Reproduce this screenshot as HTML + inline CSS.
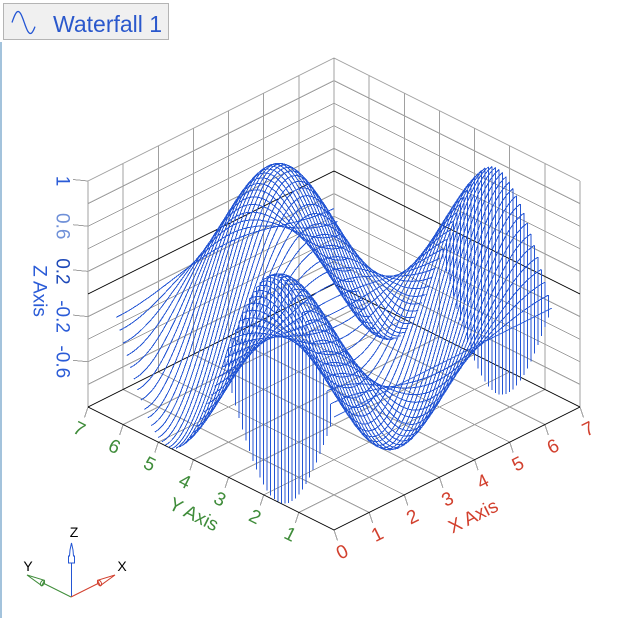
<!DOCTYPE html>
<html>
<head>
<meta charset="utf-8">
<style>
html,body{margin:0;padding:0;background:#fff;}
body{width:634px;height:618px;overflow:hidden;position:relative;}
svg{position:absolute;left:0;top:0;}
text{font-family:"Liberation Sans",Arial,sans-serif;}
</style>
</head>
<body>
<svg width="634" height="618" viewBox="0 0 634 618" xmlns="http://www.w3.org/2000/svg">
<!-- left stripe -->
<rect x="0" y="42" width="2" height="576" fill="#a3c3dc"/>
<!-- legend -->
<rect x="3.5" y="3.5" width="165" height="36" fill="#f0f0f0" stroke="#b4b4b4" stroke-width="1"/>
<path id="leg" d="" fill="none" stroke="#2456d4" stroke-width="1.3"/>
<text x="53" y="32" font-size="23" fill="#2a58cc">Waterfall 1</text>

<!-- gray grid -->
<g stroke="#a0a0a0" stroke-width="1" fill="none" shape-rendering="crispEdges">
  <!-- left wall verticals -->
  <line x1="88" y1="407" x2="88" y2="181"/>
  <line x1="123.14" y1="389.43" x2="123.14" y2="163.43"/>
  <line x1="158.29" y1="371.86" x2="158.29" y2="145.86"/>
  <line x1="193.43" y1="354.29" x2="193.43" y2="128.29"/>
  <line x1="228.57" y1="336.71" x2="228.57" y2="110.71"/>
  <line x1="263.71" y1="319.14" x2="263.71" y2="93.14"/>
  <line x1="298.86" y1="301.57" x2="298.86" y2="75.57"/>
  <line x1="334" y1="284" x2="334" y2="58"/>
  <!-- right wall verticals -->
  <line x1="580" y1="407" x2="580" y2="181"/>
  <line x1="544.86" y1="389.43" x2="544.86" y2="163.43"/>
  <line x1="509.71" y1="371.86" x2="509.71" y2="145.86"/>
  <line x1="474.57" y1="354.29" x2="474.57" y2="128.29"/>
  <line x1="439.43" y1="336.71" x2="439.43" y2="110.71"/>
  <line x1="404.29" y1="319.14" x2="404.29" y2="93.14"/>
  <line x1="369.14" y1="301.57" x2="369.14" y2="75.57"/>
  <!-- wall horizontals -->
  <polyline points="88,384.4 334,261.4 580,384.4"/>
  <polyline points="88,361.8 334,238.8 580,361.8"/>
  <polyline points="88,339.2 334,216.2 580,339.2"/>
  <polyline points="88,316.6 334,193.6 580,316.6"/>
  <polyline points="88,271.4 334,148.4 580,271.4"/>
  <polyline points="88,248.8 334,125.8 580,248.8"/>
  <polyline points="88,226.2 334,103.2 580,226.2"/>
  <polyline points="88,203.6 334,80.6 580,203.6"/>
  <polyline points="88,181 334,58 580,181"/>
  <!-- floor x=k -->
  <line x1="369.14" y1="512.43" x2="123.14" y2="389.43"/>
  <line x1="404.29" y1="494.86" x2="158.29" y2="371.86"/>
  <line x1="439.43" y1="477.29" x2="193.43" y2="354.29"/>
  <line x1="474.57" y1="459.71" x2="228.57" y2="336.71"/>
  <line x1="509.71" y1="442.14" x2="263.71" y2="319.14"/>
  <line x1="544.86" y1="424.57" x2="298.86" y2="301.57"/>
  <!-- floor y=k -->
  <line x1="298.86" y1="512.43" x2="544.86" y2="389.43"/>
  <line x1="263.71" y1="494.86" x2="509.71" y2="371.86"/>
  <line x1="228.57" y1="477.29" x2="474.57" y2="354.29"/>
  <line x1="193.43" y1="459.71" x2="439.43" y2="336.71"/>
  <line x1="158.29" y1="442.14" x2="404.29" y2="319.14"/>
  <line x1="123.14" y1="424.57" x2="369.14" y2="301.57"/>
  <!-- Y ticks -->
  <line x1="298.86" y1="512.43" x2="295.36" y2="522.93"/>
  <line x1="263.71" y1="494.86" x2="260.21" y2="505.36"/>
  <line x1="228.57" y1="477.29" x2="225.07" y2="487.79"/>
  <line x1="193.43" y1="459.71" x2="189.93" y2="470.21"/>
  <line x1="158.29" y1="442.14" x2="154.79" y2="452.64"/>
  <line x1="123.14" y1="424.57" x2="119.64" y2="435.07"/>
  <line x1="88" y1="407" x2="84.5" y2="417.5"/>
  <!-- X ticks -->
  <line x1="334" y1="530" x2="337.5" y2="540.5"/>
  <line x1="369.14" y1="512.43" x2="372.64" y2="522.93"/>
  <line x1="404.29" y1="494.86" x2="407.79" y2="505.36"/>
  <line x1="439.43" y1="477.29" x2="442.93" y2="487.79"/>
  <line x1="474.57" y1="459.71" x2="478.07" y2="470.21"/>
  <line x1="509.71" y1="442.14" x2="513.21" y2="452.64"/>
  <line x1="544.86" y1="424.57" x2="548.36" y2="435.07"/>
  <line x1="580" y1="407" x2="583.5" y2="417.5"/>
  <!-- Z ticks -->
  <line x1="73" y1="179.5" x2="88" y2="181"/>
  <line x1="73" y1="224.7" x2="88" y2="226.2"/>
  <line x1="73" y1="269.9" x2="88" y2="271.4"/>
  <line x1="73" y1="315.1" x2="88" y2="316.6"/>
  <line x1="73" y1="360.3" x2="88" y2="361.8"/>
</g>

<!-- black lines -->
<g stroke="#000" stroke-width="1" fill="none" shape-rendering="crispEdges">
  <polyline points="88,294 334,171 580,294"/>
  <polyline points="88,407 334,284 580,407"/>
  <polyline points="88,407 334,530 580,407"/>
</g>

<!-- surface -->
<path id="surf" d="" fill="none" stroke="#2456d4" stroke-width="1" shape-rendering="crispEdges"/>

<!-- Z labels -->
<g fill="#2a5bd7" font-size="19" text-anchor="middle">
  <text transform="translate(63,181) rotate(90)" dy="0.35em">1</text>
  <text transform="translate(63,226.2) rotate(90)" dy="0.35em" fill="#6f90d8">0.6</text>
  <text transform="translate(63,271.4) rotate(90)" dy="0.35em" fill="#1d48b8">0.2</text>
  <text transform="translate(63,316.6) rotate(90)" dy="0.35em">-0.2</text>
  <text transform="translate(63,361.8) rotate(90)" dy="0.35em">-0.6</text>
  <text transform="translate(40,291) rotate(90)" dy="0.35em">Z Axis</text>
</g>

<!-- Y labels -->
<g fill="#3f8c3a" font-size="19" text-anchor="middle">
  <text transform="translate(290.4,533.9) rotate(26.57)" dy="0.35em">1</text>
  <text transform="translate(255.2,516.4) rotate(26.57)" dy="0.35em">2</text>
  <text transform="translate(220.1,498.8) rotate(26.57)" dy="0.35em">3</text>
  <text transform="translate(184.9,481.2) rotate(26.57)" dy="0.35em">4</text>
  <text transform="translate(149.8,463.6) rotate(26.57)" dy="0.35em">5</text>
  <text transform="translate(114.6,446.1) rotate(26.57)" dy="0.35em">6</text>
  <text transform="translate(79.5,428.5) rotate(26.57)" dy="0.35em">7</text>
  <text transform="translate(194,514) rotate(26.57)" dy="0.35em">Y Axis</text>
</g>

<!-- X labels -->
<g fill="#d2402e" font-size="19" text-anchor="middle">
  <text transform="translate(342,551.5) rotate(-26.57)" dy="0.35em">0</text>
  <text transform="translate(377.1,533.9) rotate(-26.57)" dy="0.35em">1</text>
  <text transform="translate(412.3,516.4) rotate(-26.57)" dy="0.35em">2</text>
  <text transform="translate(447.4,498.8) rotate(-26.57)" dy="0.35em">3</text>
  <text transform="translate(482.6,481.2) rotate(-26.57)" dy="0.35em">4</text>
  <text transform="translate(517.7,463.6) rotate(-26.57)" dy="0.35em">5</text>
  <text transform="translate(552.9,446.1) rotate(-26.57)" dy="0.35em">6</text>
  <text transform="translate(588,428.5) rotate(-26.57)" dy="0.35em">7</text>
  <text transform="translate(473,516) rotate(-26.57)" dy="0.35em">X Axis</text>
</g>

<!-- triad -->
<g fill="none" stroke-width="1">
  <line x1="71.5" y1="597" x2="71.5" y2="548" stroke="#2456d4"/>
  <polygon points="71.5,543 73,550 73.5,556 74.5,556 74.5,563 68.5,563 68.5,556 69.5,556 70,550" fill="#fff" stroke="#2456d4"/>
  <line x1="71" y1="597" x2="40" y2="581.5" stroke="#3f8c3a"/>
  <polygon points="27,575 44.4,580.3 41.8,585.7" fill="#fff" stroke="#3f8c3a"/>
  <ellipse cx="42.5" cy="583" rx="1.8" ry="3" transform="rotate(26.57 42.5 583)" stroke="#3f8c3a"/>
  <line x1="71" y1="597" x2="102" y2="581.5" stroke="#d2402e"/>
  <polygon points="115,575 100.2,585.7 97.6,580.3" fill="#fff" stroke="#d2402e"/>
  <ellipse cx="99.5" cy="583" rx="1.8" ry="3" transform="rotate(-26.57 99.5 583)" stroke="#d2402e"/>
</g>
<g fill="#000" font-size="14" text-anchor="middle">
  <text x="74" y="537">Z</text>
  <text x="28" y="571">Y</text>
  <text x="122" y="571">X</text>
</g>
</svg>
<script>
(function(){
  var a=35.143,b=17.571,c=113;
  function P(x,y,z){return (334+a*(x-y)).toFixed(1)+' '+(530-b*(x+y)-c*(z+1)).toFixed(1);}
  var d='';
  for(var j=0;j<=62;j++){
    var y=j/10, s=Math.sin(y);
    for(var i=0;i<=62;i++){
      var x=i/10;
      d+=(i?'L':'M')+P(x,y,Math.cos(x)*s);
    }
    if(s>0.001){
      var mn=Math.cos(3.1)*s;
      d+='M'+P(0,y,s)+'L'+P(0,y,mn);
      d+='M'+P(6.2,y,Math.cos(6.2)*s)+'L'+P(6.2,y,mn);
    }
  }
  document.getElementById('surf').setAttribute('d',d);
  var l='';
  for(var k=0;k<=46;k++){
    var xx=12+k*0.5;
    var yy=22.5-11*Math.sin(2*Math.PI*(xx-12)/24.5);
    l+=(k?'L':'M')+xx.toFixed(2)+' '+yy.toFixed(2);
  }
  document.getElementById('leg').setAttribute('d',l);
})();
</script>
</body>
</html>
